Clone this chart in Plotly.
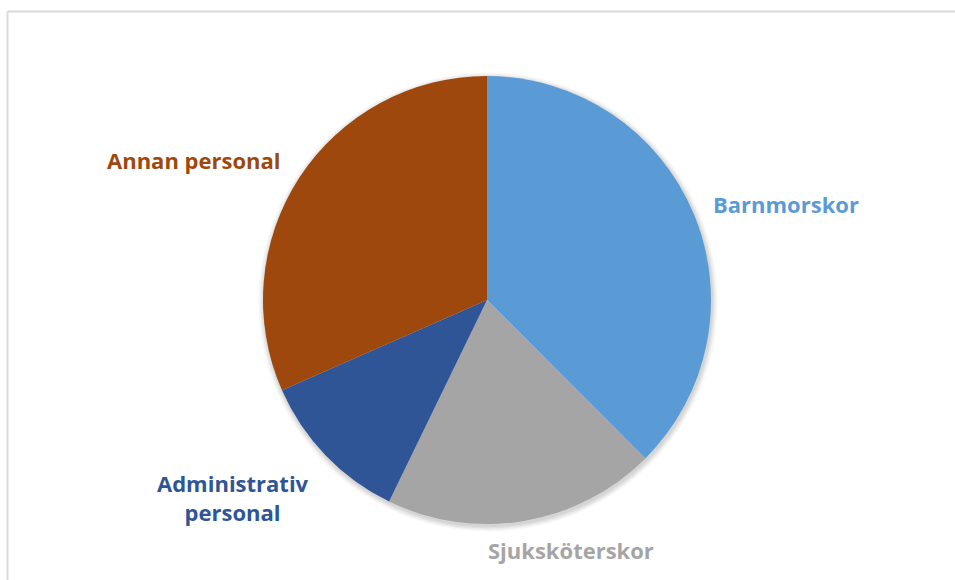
import plotly.graph_objects as go

labels = ["Barnmorskor", "Sjuksköterskor", "Administrativ<br>personal", "Annan personal"]
values = [37.5, 19.7, 11.2, 31.6]
colors = ["#5B9BD5", "#A5A5A5", "#2F5597", "#9E480E"]

W, H = 955, 580
cx, cy, r = 487, 300, 224

# label placement (pixels) and anchors
label_pos = [(711, 204, "left"), (571, 550, "center"), (233, 497, "center"), (283, 160, "right")]

fig = go.Figure()
fig.add_trace(go.Pie(
    labels=labels, values=values, sort=False, direction="clockwise", rotation=0,
    marker=dict(colors=colors, line=dict(width=0)),
    textinfo="none", hoverinfo="label+percent", showlegend=False,
    domain=dict(x=[(cx - r) / W, (cx + r) / W], y=[(H - cy - r) / H, (H - cy + r) / H]),
))

for (lx, ly, anc), lab, col in zip(label_pos, labels, colors):
    fig.add_annotation(x=lx / W, y=1 - ly / H, xref="paper", yref="paper",
                       text=f"<b>{lab}</b>", showarrow=False, xanchor=anc, yanchor="middle",
                       align="center", font=dict(family="Open Sans", size=22, color=col))

# soft shadow beneath the pie
for i, op in enumerate([0.05, 0.05, 0.04, 0.03]):
    R = r + 1 + i * 1.5
    sx, sy = cx + 1, cy + 2
    fig.add_shape(type="circle", xref="paper", yref="paper",
                  x0=(sx - R) / W, x1=(sx + R) / W, y0=1 - (sy + R) / H, y1=1 - (sy - R) / H,
                  fillcolor=f"rgba(0,0,0,{op})", line=dict(width=0), layer="below")

# chart-area border (top and left edges visible)
bx = 7.5 / W
by = 1 - 11.5 / H
fig.add_shape(type="line", xref="paper", yref="paper", x0=bx, x1=1.0, y0=by, y1=by,
              line=dict(color="#D9D9D9", width=2), layer="below")
fig.add_shape(type="line", xref="paper", yref="paper", x0=bx, x1=bx, y0=0.0, y1=by,
              line=dict(color="#D9D9D9", width=2), layer="below")

fig.update_layout(width=W, height=H, margin=dict(l=0, r=0, t=0, b=0),
                  paper_bgcolor="white", plot_bgcolor="white")
fig.write_html("out.html", config={"displayModeBar": False},
               post_script="document.body.style.margin='0';document.body.style.overflow='hidden';")
